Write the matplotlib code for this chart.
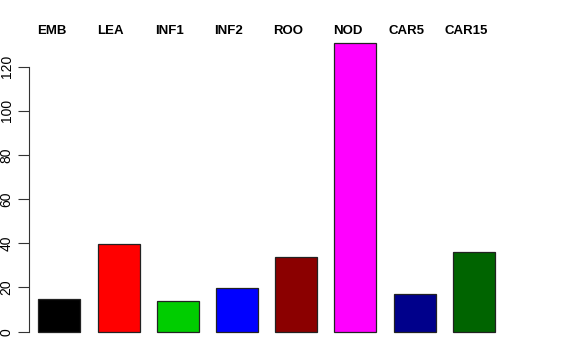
import matplotlib.pyplot as plt

tissues = ['EMB', 'LEA', 'INF1', 'INF2', 'ROO', 'NOD', 'CAR5', 'CAR15']
counts = [14.8, 39.5, 14.0, 19.6, 33.9, 130.6, 17.1, 36.2]
colors = ['#000000', '#FF0000', '#00CD00', '#0000FF', '#8B0000', '#FF00FF', '#00008B', '#006400']
yticks = [0, 20, 40, 60, 80, 100, 120]

plt.rcParams['font.family'] = ['Liberation Sans', 'DejaVu Sans']

fig = plt.figure(figsize=(5.76, 3.6), dpi=100)
ax = fig.add_axes([0.0503, 0.0467, 0.825, 0.868])

x = list(range(len(tissues)))
ax.bar(x, counts, width=0.71, color=colors, edgecolor='#222222', linewidth=0.9)

ax.set_xlim(-0.515, 7.515)
ax.set_ylim(-5.2, 136.2)

for s in ['top', 'right', 'bottom']:
    ax.spines[s].set_visible(False)
ax.spines['left'].set_bounds(0, 120)
ax.spines['left'].set_color('#333333')
ax.spines['left'].set_linewidth(0.8)

ax.set_xticks([])
ax.set_yticks(yticks)
ax.tick_params(axis='y', length=8, width=0.8, color='#333333', pad=3, labelsize=10)
for lab in ax.get_yticklabels():
    lab.set_rotation(90)
    lab.set_va('center')

# tissue names above the plot, nudged a little left of each bar
trans = ax.get_xaxis_transform()
for i, name in enumerate(tissues):
    ax.text(i - 0.135, 1.0, name, transform=trans, ha='center', va='center',
            fontsize=9.5, fontweight='bold', clip_on=False)

fig.savefig('out.png', dpi=100)
